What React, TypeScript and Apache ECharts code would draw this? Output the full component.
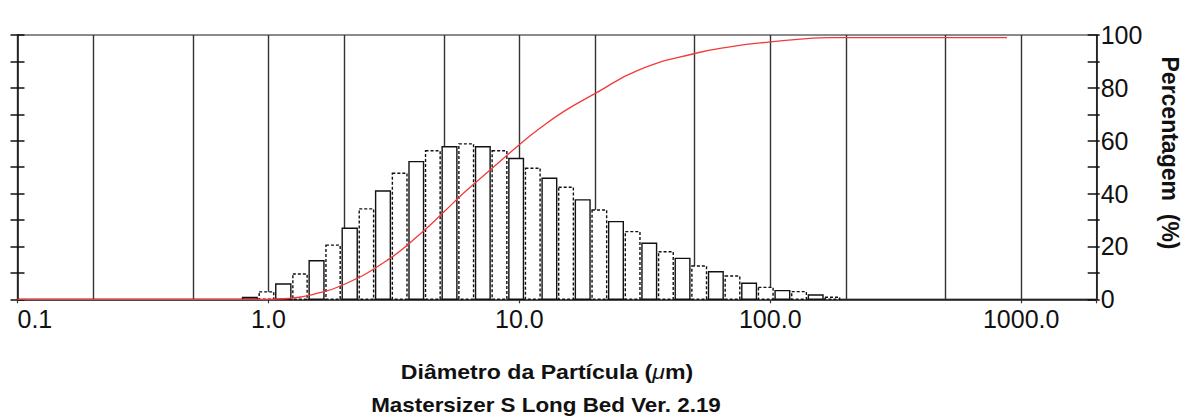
import React, { useEffect, useRef } from 'react';
import * as echarts from 'echarts';

// Particle size bin edges (µm) – Mastersizer S bands that carry volume
const binEdges = [
  0.7814, 0.9103, 1.06, 1.24, 1.44, 1.68, 1.95, 2.28, 2.65, 3.09, 3.6, 4.19,
  4.88, 5.69, 6.63, 7.72, 9.0, 10.48, 12.21, 14.22, 16.57, 19.31, 22.49, 26.2,
  30.53, 35.56, 41.43, 48.27, 56.23, 65.51, 76.32, 88.91, 103.58, 120.67,
  140.58, 163.77, 190.8,
];
// Volume % in each band (left axis, 0–10)
const volumePct = [
  0.07, 0.28, 0.58, 0.96, 1.46, 2.05, 2.69, 3.42, 4.1, 4.77, 5.21, 5.62, 5.77,
  5.88, 5.77, 5.62, 5.33, 4.96, 4.58, 4.24, 3.76, 3.38, 2.94, 2.56, 2.12, 1.8,
  1.55, 1.26, 1.04, 0.88, 0.61, 0.45, 0.33, 0.29, 0.16, 0.08,
];
// Cumulative undersize curve (right axis, %)
const cumSize = [
  0.1, 1.0, 1.2, 1.5, 2.0, 3.0, 4.0, 5.0, 6.0, 8.0, 10, 12, 15, 20, 30, 50,
  70, 100, 140, 170, 878.7,
];
const cumPct = [
  0, 0, 0.3, 1.8, 5.6, 15, 24.5, 33, 40.2, 50.5, 58.5, 64.5, 71, 77.8, 86.8,
  93, 95.6, 97.4, 98.6, 99, 99,
];
// Vertical grid lines (µm)
const gridLines = [0.2, 0.5, 1, 2, 5, 10, 20, 50, 100, 200, 500, 1000];
// x tick labels by decade exponent
const xTickLabels: Record<string, string> = {
  '-1': '0.1',
  '0': '1.0',
  '1': '10.0',
  '2': '100.0',
  '3': '1000.0',
};
const rightTicks = [0, 20, 40, 60, 80, 100];

const FONT = '"Liberation Sans", Arial, sans-serif';

export default function App() {
  const ref = useRef<HTMLDivElement>(null);
  useEffect(() => {
    if (!ref.current) return;
    const chart = echarts.init(ref.current, null, { renderer: 'svg' });
    const barData = volumePct.map((v, i) => [binEdges[i], binEdges[i + 1], v]);
    const lineData = cumSize.map((d, i) => [d, cumPct[i]]);
    chart.setOption({
      animation: false,
      backgroundColor: '#ffffff',
      textStyle: { fontFamily: FONT },
      grid: {
        left: 17.5,
        right: 87.3,
        top: 35,
        bottom: 117.7,
        show: true,
        borderColor: '#666',
        borderWidth: 1.5,
        backgroundColor: 'transparent',
      },
      xAxis: {
        type: 'log',
        logBase: 10,
        min: 0.1,
        max: 2000,
        axisLine: { show: true, onZero: false, lineStyle: { color: '#111', width: 1.5 } },
        axisTick: { show: true, length: 4, lineStyle: { color: '#333', width: 1.2 } },
        axisLabel: {
          fontSize: 25,
          color: '#111',
          margin: 7,
          fontFamily: FONT,
          alignMinLabel: 'left',
          formatter: (v: number) => {
            const e = Math.log10(v);
            const r = Math.round(e);
            if (Math.abs(e - r) > 1e-6) return '';
            return xTickLabels[String(r)] ?? '';
          },
        },
        splitLine: { show: false },
      },
      yAxis: [
        {
          type: 'value',
          position: 'left',
          min: 0,
          max: 10,
          interval: 1,
          axisLine: { show: true, lineStyle: { color: '#111', width: 1.5 } },
          axisTick: { show: true, inside: false, length: 7, lineStyle: { color: '#111', width: 1.5 } },
          axisLabel: { show: false },
          splitLine: { show: false },
        },
        {
          type: 'value',
          position: 'right',
          min: 0,
          max: 100,
          interval: 10,
          axisLine: { show: true, lineStyle: { color: '#111', width: 1.5 } },
          axisTick: { show: true, inside: true, length: 9, lineStyle: { color: '#111', width: 1.5 } },
          axisLabel: {
            show: true,
            fontSize: 25,
            color: '#111',
            margin: 4,
            fontFamily: FONT,
            formatter: (v: number) => (rightTicks.includes(v) ? String(v) : ''),
          },
          splitLine: { show: false },
        },
        {
          type: 'value',
          position: 'left',
          min: 0,
          max: 10,
          interval: 1,
          axisLine: { show: false },
          axisTick: { show: true, inside: true, length: 7, lineStyle: { color: '#111', width: 1.5 } },
          axisLabel: { show: false },
          splitLine: { show: false },
        },
        {
          type: 'value',
          position: 'right',
          min: 0,
          max: 100,
          interval: 10,
          axisLine: { show: false },
          axisTick: { show: true, inside: false, length: 3, lineStyle: { color: '#111', width: 1.5 } },
          axisLabel: { show: false },
          splitLine: { show: false },
        },
      ],
      series: [
        {
          type: 'custom',
          name: 'Volume',
          xAxisIndex: 0,
          yAxisIndex: 0,
          z: 2,
          encode: { x: [0, 1], y: 2 },
          data: barData,
          renderItem: (params: any, api: any) => {
            const lo = api.value(0);
            const hi = api.value(1);
            const v = api.value(2);
            const p0 = api.coord([lo, v]);
            const p1 = api.coord([hi, 0]);
            return {
              type: 'rect',
              shape: {
                x: p0[0] + 1,
                y: p0[1],
                width: p1[0] - p0[0] - 2,
                height: p1[1] - p0[1],
              },
              style: {
                fill: '#ffffff',
                stroke: '#111',
                lineWidth: 1.4,
                lineDash: params.dataIndex % 2 === 1 ? [3, 2] : null,
              },
            };
          },
        },
        {
          type: 'line',
          name: 'Cumulativo',
          xAxisIndex: 0,
          yAxisIndex: 1,
          z: 3,
          data: lineData,
          showSymbol: false,
          smooth: 0.5,
          lineStyle: { color: '#f23a3a', width: 1.3 },
          markLine: {
            silent: true,
            z: 1,
            symbol: 'none',
            label: { show: false },
            lineStyle: { color: '#333', width: 1.4, type: 'solid' },
            data: gridLines.map((g) => ({ xAxis: g })),
          },
        },
      ],
      graphic: [
        {
          type: 'text',
          x: 1170,
          y: 153,
          rotation: -Math.PI / 2,
          style: {
            text: 'Percentagem  (%)',
            font: `bold 23px ${FONT}`,
            fill: '#111',
            align: 'center',
            verticalAlign: 'middle',
          },
        },
        {
          type: 'text',
          x: 547,
          y: 372,
          scaleX: 1.1,
          style: {
            text: 'Diâmetro da Partícula ({i|μ}m)',
            font: `bold 21px ${FONT}`,
            fill: '#111',
            align: 'center',
            verticalAlign: 'middle',
            rich: {
              i: { font: `italic 21px ${FONT}`, fill: '#111' },
            },
          },
        },
        {
          type: 'text',
          x: 546,
          y: 405,
          scaleX: 1.12,
          style: {
            text: 'Mastersizer S Long Bed Ver. 2.19',
            font: `bold 20px ${FONT}`,
            fill: '#111',
            align: 'center',
            verticalAlign: 'middle',
          },
        },
      ],
    });
    return () => chart.dispose();
  }, []);
  return (
    <div
      ref={ref}
      style={{ position: 'fixed', left: 0, top: 0, width: 1184, height: 417 }}
    />
  );
}
